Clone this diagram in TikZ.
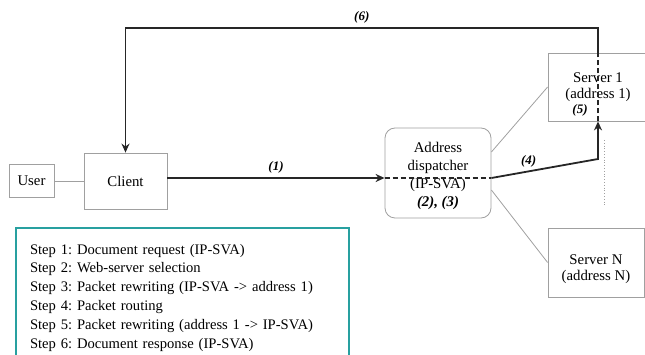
\documentclass[tikz,border=0pt]{standalone}
\usepackage{fontspec}
\setmainfont{Liberation Serif}
\usetikzlibrary{arrows.meta,calc}
\frenchspacing

\definecolor{boxgray}{RGB}{160,160,160}
\definecolor{legteal}{RGB}{40,160,160}

\begin{document}
\begin{tikzpicture}[x=1pt,y=-1pt,
   box/.style={draw=boxgray, line width=0.8pt, inner sep=0pt, align=center,
      font=\fontsize{14.8}{16}\selectfont},
   link/.style={draw=boxgray, line width=0.8pt},
   flow/.style={draw=black!85, line width=1.8pt},
   flowdash/.style={flow, dash pattern=on 5pt off 3pt},
   lbl/.style={font=\fontsize{13}{14}\selectfont\bfseries\itshape}]
   \useasboundingbox (0,0) rectangle (645,355);

   % boxes
   \node[box, minimum width=45, minimum height=33] (user) at (31.5,181) {User};
   \node[box, minimum width=83, minimum height=56] (client) at (125.5,181) {Client};
   \node[box, rounded corners=10pt, minimum width=106, minimum height=90,
      font=\fontsize{14.8}{18}\selectfont] (disp) at (438,173)
      {\rule{0pt}{17pt}Address\\dispatcher\\(IP-SVA)\\\textbf{\textit{(2), (3)}}};
   \node[box, minimum width=100, minimum height=68] (srv1) at (598,87)
      {Server 1\\(address 1)};
   \node[box, minimum width=96, minimum height=69] (srvN) at (596,262.5)
      {\rule{0pt}{24pt}Server N\\(address N)};

   \node[lbl] (step5) at (580,110) {(5)};

   % thin links
   \path[link] (user) -- (client);
   \path[link] ($(disp.east)+(0,-21)$) -- (srv1.west);
   \path[link] ($(disp.east)+(0,17)$) -- (srvN.west);
   \draw[boxgray, line width=0.8pt, dotted] (604,140) -- (604,205);

   % packet flow
   \coordinate (d_in) at ($(disp.west)+(0,5)$);
   \coordinate (d_out) at ($(disp.east)+(0,5)$);
   \coordinate (bend4) at (598,159);
   \coordinate (top6) at (598,28);

   \path[flow, -{Stealth[length=9pt,width=8pt]}] (client.east |- d_in) to node[lbl, above] {(1)} (d_in);
   \path[flowdash] (d_in) -- (d_out);
   \path[flow, -{Stealth[length=9pt,width=8pt]}] (d_out) to node[lbl, above, pos=0.35] {(4)} (bend4) -- (srv1.south);
   \path[flowdash] (srv1.south) -- (srv1.north);
   \path[flow, -{Stealth[length=9pt,width=8pt]}] (srv1.north) -- (top6) -| node[lbl, above, pos=0.25] {(6)} (client.north);

   % legend
   \node[draw=legteal, line width=2pt, anchor=north west, inner xsep=14pt, inner ysep=16pt,
      text width=305pt, align=left, font=\fontsize{14.6}{18.8}\selectfont] (steps) at (15,227)
      {Step 1: Document request (IP-SVA)\\
       Step 2: Web-server selection\\
       Step 3: Packet rewriting (IP-SVA -> address 1)\\
       Step 4: Packet routing\\
       Step 5: Packet rewriting (address 1 -> IP-SVA)\\
       Step 6: Document response (IP-SVA)};

\end{tikzpicture}
\end{document}
